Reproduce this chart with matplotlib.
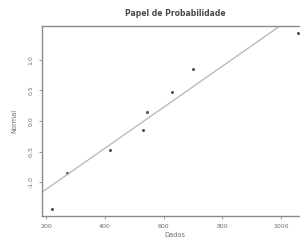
import numpy as np
import matplotlib
matplotlib.use("Agg")
import matplotlib.pyplot as plt

# --- DATA ---
cmax = [220, 271, 418, 530, 544, 629, 700, 1058]
normal_q = [-1.43, -0.85, -0.47, -0.15, 0.15, 0.47, 0.85, 1.43]
x_ticks = [200, 400, 600, 800, 1000]
y_ticks = [-1.0, -0.5, 0.0, 0.5, 1.0]
y_tick_labels = ["-1.0", "-0.5", "0.0", "0.5", "1.0"]

# reference line z = (x - MU) / SD
MU = 533
SD = 299

TITLE = "Papel de Probabilidade"
XLABEL = "Dados"
YLABEL = "Normal"

GRAY = "#8a8a8a"
TXT = "#6e6e6e"

fig = plt.figure(figsize=(3.0, 2.4), dpi=100)
# right edge of the plot box sits just outside the picture
ax = fig.add_axes([0.14, 0.10, 0.887, 0.7917])

ax.plot(cmax, normal_q, linestyle="none", marker="o", markersize=2.2,
        color="#505050", markeredgewidth=0)
ax.axline((MU, 0), slope=1 / SD, color="#b4b4b4", linewidth=0.9)

ax.set_xlim(186, 1092)
ax.set_ylim(-1.549, 1.549)

ax.set_xticks(x_ticks)
ax.set_xticklabels([str(v) for v in x_ticks])
ax.set_yticks(y_ticks)
ax.set_yticklabels(y_tick_labels, rotation=90, va="center")

for s in ax.spines.values():
    s.set_color(GRAY)
    s.set_linewidth(1.0)

ax.tick_params(axis="both", length=2, width=0.6, color=GRAY,
               labelsize=4.5, labelcolor=TXT, pad=4)

ax.set_title(TITLE, fontsize=5.5, fontweight="bold", color="#4a4a4a", pad=7)
ax.set_xlabel(XLABEL, fontsize=4.8, color=TXT, labelpad=2)
ax.set_ylabel(YLABEL, fontsize=4.8, color=TXT, labelpad=8)

fig.savefig("out.png", dpi=100, facecolor="white")
